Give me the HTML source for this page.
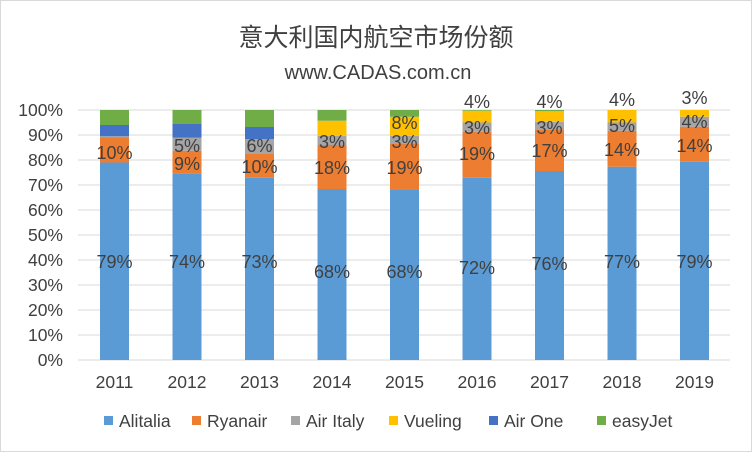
<!DOCTYPE html>
<html><head><meta charset="utf-8"><style>
html,body{margin:0;padding:0;background:#fff}
svg{display:block}
text{font-family:"Liberation Sans","Noto Sans CJK SC",sans-serif;fill:#404040}
</style></head><body>
<svg width="752" height="452" viewBox="0 0 752 452" xmlns="http://www.w3.org/2000/svg">
<rect x="0.5" y="0.5" width="751" height="451" fill="#fff" stroke="#d9d9d9"/>
<text x="376" y="46" font-size="25" text-anchor="middle" fill="#595959">意大利国内航空市场份额</text>
<text x="378" y="79" font-size="20" text-anchor="middle" fill="#595959">www.CADAS.com.cn</text>
<g stroke="#d9d9d9" stroke-width="1">
<line x1="78" x2="730" y1="110" y2="110"/><line x1="78" x2="730" y1="135" y2="135"/>
<line x1="78" x2="730" y1="160" y2="160"/><line x1="78" x2="730" y1="185" y2="185"/>
<line x1="78" x2="730" y1="210" y2="210"/><line x1="78" x2="730" y1="235" y2="235"/>
<line x1="78" x2="730" y1="260" y2="260"/><line x1="78" x2="730" y1="285" y2="285"/>
<line x1="78" x2="730" y1="310" y2="310"/><line x1="78" x2="730" y1="335" y2="335"/>
<line x1="78" x2="730" y1="360" y2="360"/>
</g>
<g font-size="17.5" text-anchor="end">
<text x="63" y="116">100%</text><text x="63" y="141">90%</text><text x="63" y="166">80%</text>
<text x="63" y="191">70%</text><text x="63" y="216">60%</text><text x="63" y="241">50%</text>
<text x="63" y="266">40%</text><text x="63" y="291">30%</text><text x="63" y="316">20%</text>
<text x="63" y="341">10%</text><text x="63" y="366">0%</text>
</g>
<g id="bars"></g>
<g font-size="17.5" text-anchor="middle">
<text x="114.5" y="388">2011</text><text x="187" y="388">2012</text><text x="259.5" y="388">2013</text>
<text x="332" y="388">2014</text><text x="404.5" y="388">2015</text><text x="477" y="388">2016</text>
<text x="549.5" y="388">2017</text><text x="622" y="388">2018</text><text x="694.5" y="388">2019</text>
</g>
<g font-size="17.5">
<rect x="104" y="416" width="9" height="9" fill="#5B9BD5"/><text x="119" y="427">Alitalia</text>
<rect x="192" y="416" width="9" height="9" fill="#ED7D31"/><text x="207" y="427">Ryanair</text>
<rect x="291" y="416" width="9" height="9" fill="#A5A5A5"/><text x="306" y="427">Air Italy</text>
<rect x="389" y="416" width="9" height="9" fill="#FFC000"/><text x="404" y="427">Vueling</text>
<rect x="489" y="416" width="9" height="9" fill="#4472C4"/><text x="504" y="427">Air One</text>
<rect x="597" y="416" width="9" height="9" fill="#70AD47"/><text x="612" y="427">easyJet</text>
</g>
<g id="labels" font-size="18" text-anchor="middle" dominant-baseline="central"></g>
<script>
var cols=["#5B9BD5","#ED7D31","#A5A5A5","#FFC000","#4472C4","#70AD47"];
var data=[
[79,89,89.5,89.5,94,100],
[74.7,83.7,88.9,88.9,94.4,100],
[72.9,82.7,88.4,88.4,93.2,100],
[68.4,86,89.7,95.7,95.7,100],
[68,86.7,89.7,97.3,97.3,100],
[72.9,91.3,95,99.7,99.7,100],
[75.6,92.3,95.3,99.5,99.5,100],
[77.3,91.7,95,100,100,100],
[79.3,93.3,97.3,100,100,100]];
var labels=[
[["79%",262],["10%",153]],
[["74%",262],["9%",164],["5%",146]],
[["73%",262],["10%",167],["6%",146]],
[["68%",272],["18%",168],["3%",142]],
[["68%",272],["19%",168],["3%",142],["8%",123]],
[["72%",268],["19%",154],["3%",128],["4%",102]],
[["76%",264],["17%",151],["3%",128],["4%",102]],
[["77%",262],["14%",150],["5%",126],["4%",100]],
[["79%",262],["14%",146],["4%",122],["3%",98]]];
var ns="http://www.w3.org/2000/svg",b=document.getElementById("bars"),l=document.getElementById("labels");
data.forEach(function(d,i){var cx=114.5+72.5*i,prev=0;
d.forEach(function(t,j){if(t>prev){var r=document.createElementNS(ns,"rect");
r.setAttribute("x",cx-14.5);r.setAttribute("width",29);
r.setAttribute("y",360-t*2.5);r.setAttribute("height",(t-prev)*2.5);r.setAttribute("fill",cols[j]);b.appendChild(r);}prev=t;});
labels[i].forEach(function(p){var e=document.createElementNS(ns,"text");e.setAttribute("x",cx);e.setAttribute("y",p[1]);e.textContent=p[0];l.appendChild(e);});
});
</script>
</svg>
</body></html>
